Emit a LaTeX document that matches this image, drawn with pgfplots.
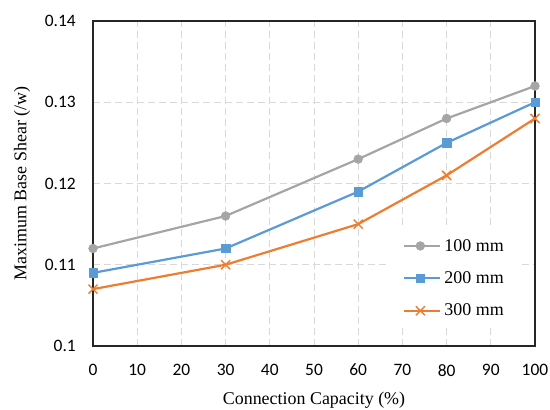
\documentclass[border=0pt]{standalone}
\usepackage{pgfplots}
\pgfplotsset{compat=1.18}
\usepackage{fontspec}
\setmainfont{Liberation Serif}
\newfontfamily\tickfont{Carlito}
\definecolor{cgray}{RGB}{165,165,165}
\definecolor{cblue}{RGB}{91,155,213}
\definecolor{corange}{RGB}{237,125,49}
\definecolor{cgrid}{RGB}{217,217,217}
\begin{document}
\begin{tikzpicture}
\useasboundingbox (-93bp,-64bp) rectangle (457bp,346bp);
\begin{axis}[
  at={(0,0)}, anchor=south west,
  scale only axis,
  width=442bp, height=325bp,
  xmin=0, xmax=100, ymin=0.1, ymax=0.14,
  xtick={0,10,...,100},
  ytick={0.1,0.11,0.12,0.13,0.14},
  yticklabels={0.1,0.11,0.12,0.13,0.14},
  tick style={draw=none},
  ticklabel style={font=\tickfont\fontsize{17.5}{20}\selectfont, inner sep=0pt},
  /pgf/number format/assume math mode=true,
  xticklabel style={anchor=north, yshift=-18bp},
  yticklabel style={anchor=east, xshift=-17bp},
  grid=major,
  major grid style={dash pattern=on 7bp off 4bp, color=cgrid, line width=1bp},
  axis line style={line width=1.6bp, black!85},
  clip=false,
  xlabel={Connection Capacity (\%)},
  ylabel={Maximum Base Shear (/w)},
  label style={font=\fontsize{18}{20}\selectfont},
  xlabel style={at={(axis description cs:0.5,-0.1815)}, anchor=base},
  ylabel style={at={(axis description cs:-0.1606,0.5)}, anchor=center},
  legend style={draw=none, fill=white, at={(0.663,0.363)}, anchor=north west,
    font=\fontsize{18}{20}\selectfont, row sep=19bp, column sep=3bp,
    inner xsep=17bp, inner ysep=11bp, nodes={inner sep=0pt}},
  legend cell align=left,
  legend image code/.code={\draw[mark repeat=2,mark phase=2,#1] plot coordinates {(0bp,0bp) (16bp,0bp) (36bp,0bp)};},
  every axis plot/.append style={line width=2.2bp, line join=round},
]
\addplot[cgray, mark=*, mark size=4.4bp, mark options={line width=0.5bp}] coordinates {(0,0.112) (30,0.116) (60,0.123) (80,0.128) (100,0.132)};
\addlegendentry{100 mm}
\addplot[cblue, mark=square*, mark size=4.2bp, mark options={line width=0.5bp}] coordinates {(0,0.109) (30,0.112) (60,0.119) (80,0.125) (100,0.130)};
\addlegendentry{200 mm}
\addplot[corange, mark=x, mark size=6.4bp, mark options={line width=1.5bp}] coordinates {(0,0.107) (30,0.110) (60,0.115) (80,0.121) (100,0.128)};
\addlegendentry{300 mm}
\end{axis}
\end{tikzpicture}
\end{document}
